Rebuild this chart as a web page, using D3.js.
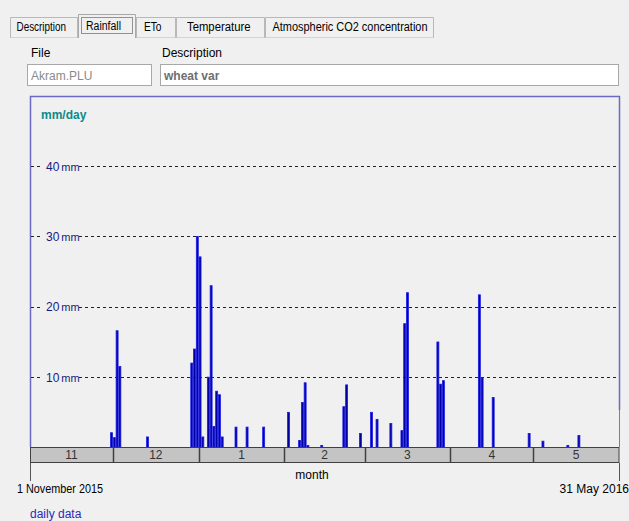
<!DOCTYPE html>
<html><head><meta charset="utf-8">
<script src="https://cdnjs.cloudflare.com/ajax/libs/d3/7.8.5/d3.min.js"></script>
<style>
html,body{margin:0;padding:0;background:#f0f0f0;}
svg{display:block;font-family:"Liberation Sans",Arial,sans-serif;}
</style></head>
<body>
<svg id="c" width="629" height="521"></svg>
<script>
// ---- data ----
const tabs = ["Description", "Rainfall", "ETo", "Temperature", "Atmospheric CO2 concentration"];
const rainDates = ["2015-11-30","2015-12-01","2015-12-02","2015-12-03","2015-12-13","2015-12-29","2015-12-30","2015-12-31",
  "2016-01-01","2016-01-02","2016-01-04","2016-01-05","2016-01-06","2016-01-07","2016-01-08","2016-01-09","2016-01-14","2016-01-18","2016-01-24",
  "2016-02-02","2016-02-06","2016-02-07","2016-02-08","2016-02-09","2016-02-14","2016-02-22","2016-02-23","2016-02-28",
  "2016-03-03","2016-03-05","2016-03-10","2016-03-14","2016-03-15","2016-03-16","2016-03-27","2016-03-28","2016-03-29",
  "2016-04-11","2016-04-12","2016-04-16","2016-04-29","2016-05-04","2016-05-13","2016-05-17"];
const rainMm = [2.1,1.4,16.6,11.5,1.5,12.0,14.0,30.0,
  27.1,1.5,10.0,23.0,3.0,8.0,7.5,1.5,2.9,2.9,2.9,
  5.0,1.0,6.4,9.2,0.3,0.3,5.8,8.9,2.0,
  5.0,4.0,3.4,2.4,17.6,22.0,15.0,9.0,9.5,
  21.7,9.9,7.1,2.0,0.9,0.3,1.7];
const monthStarts = ["2015-11-01","2015-12-01","2016-01-01","2016-02-01","2016-03-01","2016-04-01","2016-05-01","2016-06-01"];
const monthLabels = ["11","12","1","2","3","4","5"];
const yTicks = [10, 20, 30, 40];

const parse = d3.utcParse("%Y-%m-%d");
const svg = d3.select("#c");

// ---- tabs ----
const tabX = [10, 78, 136, 176, 265, 434];
const tabTextX = [16.5, 86, 144, 187, 272.5];
const tabTextW = [49.5, 35, 17.5, 63.5, 155];
svg.append("line").attr("x1",10).attr("x2",434).attr("y1",37.5).attr("y2",37.5).attr("stroke","#b8b8b8");
tabs.forEach((t,i)=>{
  const sel = i===1;
  const x0 = tabX[i], x1 = tabX[i+1];
  if (sel) {
    svg.append("path").attr("d",`M${x0+0.5},38 V14.5 H${x1-0.5} V38`).attr("fill","#f0f0f0").attr("stroke","#a8a8a8");
    svg.append("rect").attr("x",x0+3.5).attr("y",17.5).attr("width",x1-x0-7).attr("height",16).attr("fill","none")
      .attr("stroke","#333").attr("stroke-dasharray","1,1");
  } else {
    svg.append("path").attr("d",`M${x0+0.5},37.5 V17.5 H${x1-0.5} V37.5`).attr("fill","#f0f0f0").attr("stroke","#b8b8b8");
  }
  svg.append("text").attr("x",tabTextX[i]).attr("y",sel?30:31).attr("font-size",12).attr("fill","#000")
    .attr("textLength",tabTextW[i]).attr("lengthAdjust","spacingAndGlyphs").text(t);
});

// ---- file / description fields ----
svg.append("text").attr("x",31).attr("y",57).attr("font-size",12).attr("fill","#000").text("File");
svg.append("text").attr("x",162).attr("y",57).attr("font-size",12).attr("fill","#000").text("Description");
svg.append("rect").attr("x",27.5).attr("y",64.5).attr("width",124).attr("height",21).attr("fill","#fff").attr("stroke","#a8a8a8");
svg.append("rect").attr("x",160.5).attr("y",64.5).attr("width",458).attr("height",21).attr("fill","#fff").attr("stroke","#a8a8a8");
svg.append("text").attr("x",31).attr("y",80).attr("font-size",12).attr("fill","#8a8a8a").text("Akram.PLU");
svg.append("text").attr("x",164).attr("y",80).attr("font-size",12).attr("font-weight","bold").attr("fill","#6e6e6e").text("wheat var");

// ---- chart ----
const x = d3.scaleUtc().domain([parse(monthStarts[0]), parse(monthStarts[monthStarts.length-1])]).range([30, 619]);
const y = d3.scaleLinear().domain([0, 40]).range([447.5, 166.1]);

// frame
svg.append("path").attr("d","M30.5,447 V96.5 H619.5 V410").attr("fill","none").attr("stroke","#6a6ac4").attr("stroke-width",1.5);
svg.append("line").attr("x1",619.5).attr("x2",619.5).attr("y1",410).attr("y2",447).attr("stroke","#808080");

svg.append("text").attr("x",41).attr("y",119).attr("font-size",12).attr("font-weight","bold").attr("fill","#0b8a8a").text("mm/day");

// gridlines
const g = svg.append("g");
yTicks.forEach(v=>{
  g.append("line").attr("x1",31).attr("x2",619).attr("y1",Math.round(y(v))+0.5).attr("y2",Math.round(y(v))+0.5)
    .attr("stroke","#222").attr("stroke-dasharray","3,3");
  g.append("rect").attr("x",43).attr("y",y(v)-7).attr("width",36).attr("height",14).attr("fill","#f0f0f0");
  const t = g.append("text").attr("x",46).attr("y",y(v)+4.5).attr("fill","#1a1a7a");
  t.append("tspan").attr("font-size",12).text(v);
  t.append("tspan").attr("font-size",11).attr("dx",2).text("mm");
});

// bars
const rain = rainDates.map((d,i)=>({date: parse(d), mm: rainMm[i]}));
svg.append("g").selectAll("rect").data(rain).join("rect")
  .attr("x", d=>x(d.date)+0.4)
  .attr("width", d=>x(d3.utcDay.offset(d.date,1))-x(d.date)-0.8)
  .attr("y", d=>y(d.mm))
  .attr("height", d=>y(0)-y(d.mm))
  .attr("fill","#0000a0").attr("stroke","#1c1ce6").attr("stroke-width",0.8);

// month strip
const strip = svg.append("g");
strip.append("rect").attr("x",30.5).attr("y",447.5).attr("width",588.5).attr("height",15).attr("fill","#c4c4c4").attr("stroke","#404040");
monthLabels.forEach((m,i)=>{
  const a = x(parse(monthStarts[i])), b = x(parse(monthStarts[i+1]));
  if (i>0) strip.append("line").attr("x1",Math.round(a)+0.5).attr("x2",Math.round(a)+0.5).attr("y1",447).attr("y2",463).attr("stroke","#404040").attr("stroke-width",1.5);
  strip.append("text").attr("x",(a+b)/2).attr("y",459).attr("text-anchor","middle").attr("font-size",12).attr("fill","#333").text(m);
});
svg.append("line").attr("x1",30.5).attr("x2",30.5).attr("y1",463).attr("y2",481).attr("stroke","#555");
svg.append("line").attr("x1",619.5).attr("x2",619.5).attr("y1",463).attr("y2",481).attr("stroke","#555");
svg.append("text").attr("x",312).attr("y",479).attr("text-anchor","middle").attr("font-size",12).attr("fill","#000").text("month");
svg.append("text").attr("x",17).attr("y",493).attr("font-size",12).attr("fill","#000").attr("textLength",86).attr("lengthAdjust","spacingAndGlyphs").text("1 November 2015");
svg.append("text").attr("x",629).attr("y",493).attr("text-anchor","end").attr("font-size",12).attr("fill","#000").text("31 May 2016");
svg.append("text").attr("x",30).attr("y",518).attr("font-size",12).attr("fill","#2a2ab8").text("daily data");
</script>
</body></html>
